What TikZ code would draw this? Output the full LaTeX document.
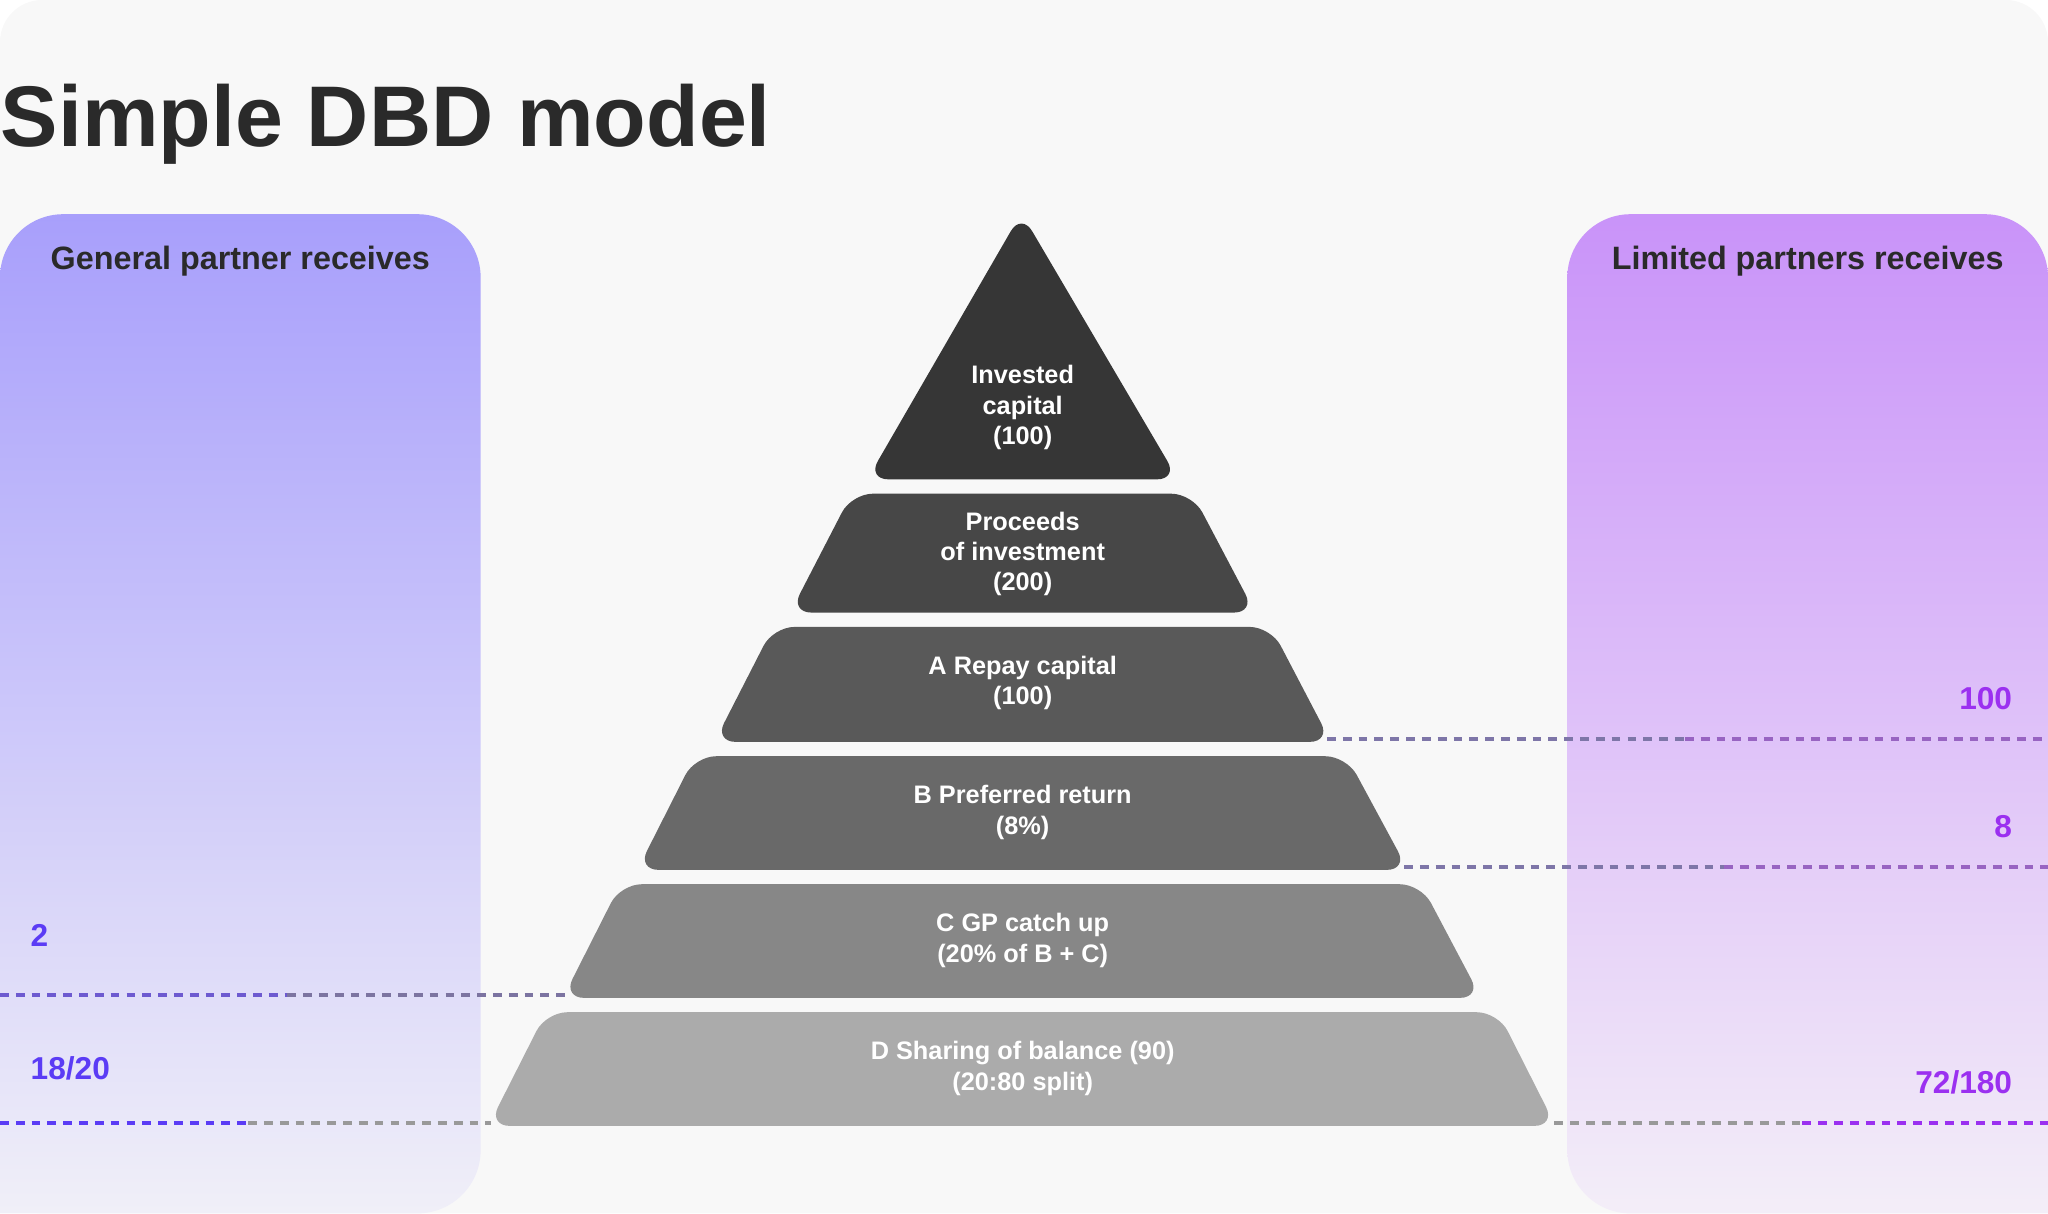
\documentclass[tikz,border=0pt]{standalone}
\usepackage{fontspec}
\setmainfont{Liberation Sans}
\definecolor{bgpage}{HTML}{F8F8F8}
\definecolor{gpblue}{HTML}{A89FFB}
\definecolor{lppurple}{HTML}{C993F9}
\definecolor{gptext}{HTML}{5B3CF5}
\definecolor{lptext}{HTML}{9B30F0}
\definecolor{inktext}{HTML}{2A2A2A}

\begin{document}
\begin{tikzpicture}[x=0.013061cm, y=-0.013061cm,
        layer/.style={rounded corners=6pt},
        label/.style={text=white, font=\bfseries\fontsize{7.2}{8.6}\selectfont, align=center},
        head/.style={text=inktext, font=\bfseries\fontsize{9.2}{11}\selectfont},
        gpnum/.style={text=gptext, font=\bfseries\fontsize{9}{11}\selectfont, anchor=west},
        lpnum/.style={text=lptext, font=\bfseries\fontsize{9}{11}\selectfont, anchor=east},
        share/.style={dashed, line width=1.1pt, dash pattern=on 2.5pt off 2pt}
    ]
    % page
    \useasboundingbox (0,0) rectangle (1568,929);
    \fill[bgpage, rounded corners=12pt] (0,0) rectangle (1568,929);
    \node[anchor=base west, inner sep=0, text=inktext, font=\bfseries\fontsize{24.5}{28}\selectfont] (title) at (0,112) {Simple DBD model};

    % side panels
    \shade[top color=gpblue, bottom color=bgpage!90!gpblue, rounded corners=18pt]
        (0,929) -- (0,164) -- (368,164) -- (368,929) [sharp corners] -- cycle;
    \shade[top color=lppurple, bottom color=bgpage!90!lppurple, rounded corners=18pt]
        (1568,929) -- (1568,164) -- (1200,164) -- (1200,929) [sharp corners] -- cycle;
    \node[head] (gphead) at (184,200) {General partner receives};
    \node[head] (lphead) at (1384,200) {Limited partners receives};

    % pyramid
    \fill[black!79, layer] (782,163) -- (902,367) -- (664,367) -- cycle;
    \fill[black!72, layer] (652,378) -- (913,378) -- (961,469) -- (605,469) -- cycle;
    \fill[black!65, layer] (592,480) -- (973,480) -- (1019,568) -- (547,568) -- cycle;
    \fill[black!59, layer] (532,579) -- (1031,579) -- (1078,666) -- (488,666) -- cycle;
    \fill[black!47, layer] (475,677) -- (1088,677) -- (1134,764) -- (431,764) -- cycle;
    \fill[black!33, layer] (418,775) -- (1147,775) -- (1191,862) -- (374,862) -- cycle;

    \node[label] (capital) at (783,312) {Invested\\capital\\(100)};
    \node[label] (proceeds) at (783,424) {Proceeds\\of investment\\(200)};
    \node[label] (repay) at (783,523) {A Repay capital\\(100)};
    \node[label] (preferred) at (783,622) {B Preferred return\\(8\%)};
    \node[label] (catchup) at (783,720) {C GP catch up\\(20\% of B + C)};
    \node[label] (sharing) at (783,818) {D Sharing of balance (90)\\(20:80 split)};

    % shares
    \coordinate (repayend) at (1016,566);
    \coordinate (prefend) at (1075,664);
    \coordinate (catchend) at (434,762);
    \coordinate (shareleft) at (376,860);
    \coordinate (shareright) at (1190,860);
    \coordinate (lprepay) at (1568,566);
    \coordinate (lppref) at (1568,664);
    \coordinate (gpcatch) at (0,762);
    \coordinate (gpshare) at (0,860);
    \coordinate (lpshare) at (1568,860);

    \draw[share, gptext!45!black!60] (repayend) -- (1290,566);
    \draw[share, lptext!70!black!70] (1290,566) -- (lprepay);
    \draw[share, gptext!45!black!60] (prefend) -- (1320,664);
    \draw[share, lptext!70!black!70] (1320,664) -- (lppref);
    \draw[share, gptext!80!black!80] (gpcatch) -- (220,762);
    \draw[share, gptext!40!black!60] (220,762) -- (catchend);
    \draw[share, gptext] (gpshare) -- (190,860);
    \draw[share, black!40] (190,860) -- (shareleft);
    \draw[share, black!40] (shareright) -- (1380,860);
    \draw[share, lptext] (1380,860) -- (lpshare);

    \node[lpnum] (lpa) at (1550,535) {100};
    \node[lpnum] (lpb) at (1550,633) {8};
    \node[lpnum] (lpd) at (1550,829) {72/180};
    \node[gpnum] (gpc) at (14,716) {2};
    \node[gpnum] (gpd) at (14,818) {18/20};
\end{tikzpicture}
\end{document}
